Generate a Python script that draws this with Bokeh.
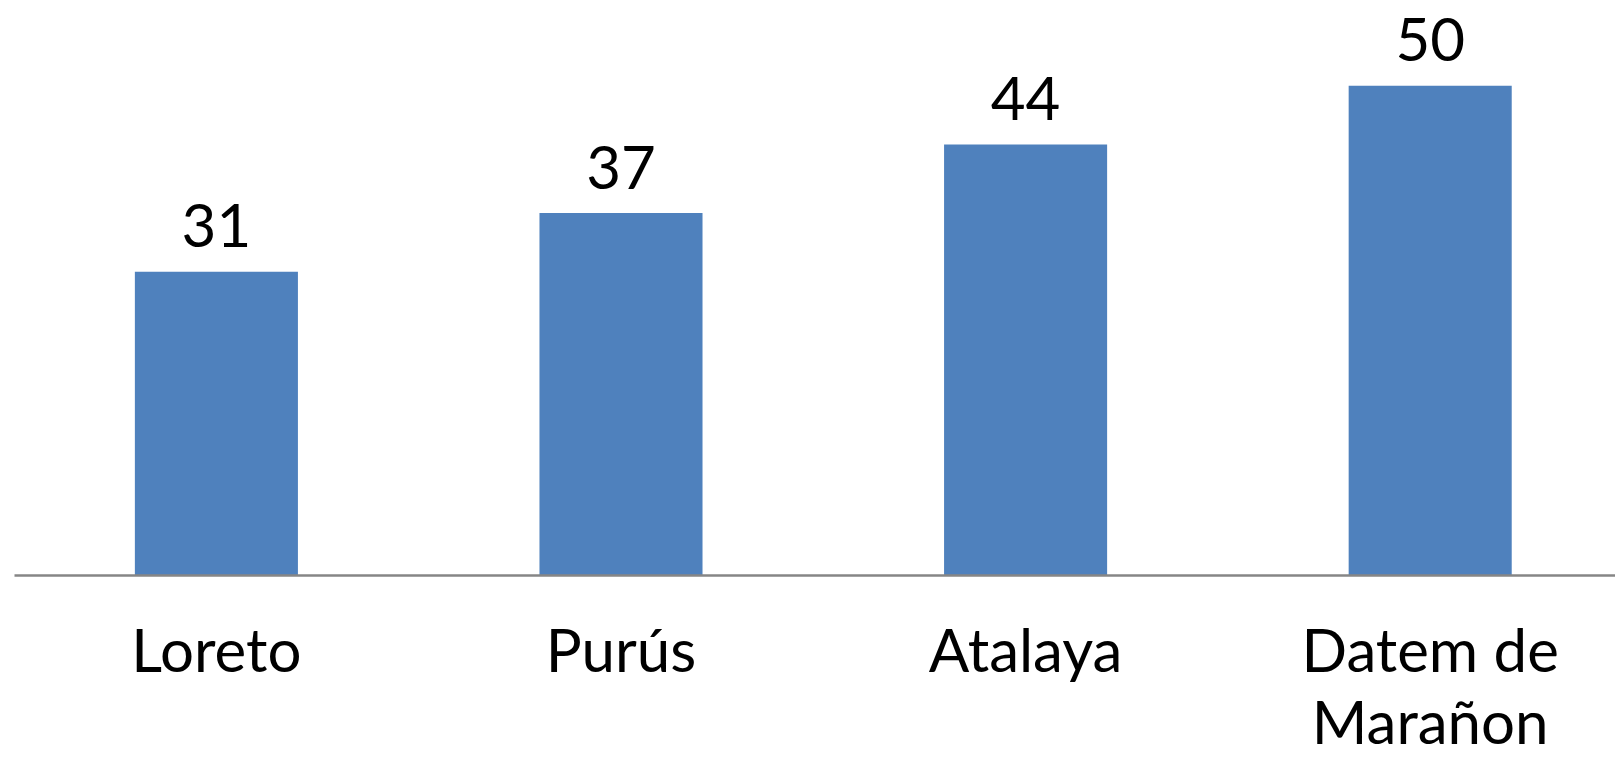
from bokeh.plotting import figure
from bokeh.models import Range1d, FixedTicker
from bokeh.core.properties import value
from bokeh.embed import file_html
from bokeh.resources import INLINE

categories = ["Loreto", "Purús", "Atalaya", "Datem de\nMarañon"]
values = [31, 37, 44, 50]

xs = list(range(len(categories)))

p = figure(width=1615, height=759, output_backend="svg", toolbar_location=None,
           x_range=Range1d(-0.499, 3.458), y_range=Range1d(0, 58.69),
           min_border_left=14, min_border_right=0, min_border_top=0, min_border_bottom=181)
p.outline_line_color = None
p.grid.visible = False
p.yaxis.visible = False
p.background_fill_color = "white"

p.vbar(x=xs, top=values, width=0.403, bottom=0, fill_color="#4F81BD", line_color=None)

labels = [str(v) for v in values]
p.text(x=xs, y=values, text=labels, text_align="center", text_baseline="alphabetic",
       y_offset=-46, text_font=value("Lato"), text_font_size="60px", text_color="black")

ax = p.xaxis[0]
ax.ticker = FixedTicker(ticks=xs)
ax.major_label_overrides = {i: c for i, c in zip(xs, categories)}
ax.major_tick_line_color = None
ax.minor_tick_line_color = None
ax.axis_line_color = "#868686"
ax.axis_line_width = 2.5
ax.major_label_text_font = "Lato"
ax.major_label_text_font_size = "60px"
ax.major_label_text_color = "black"
ax.major_label_text_line_height = 1.0
ax.major_label_standoff = 31

open("out.html", "w").write(file_html(p, INLINE))
